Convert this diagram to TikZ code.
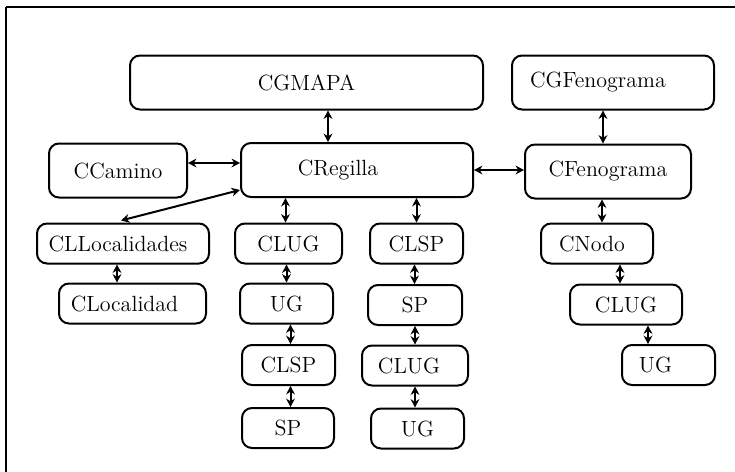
\documentclass[tikz,border=0pt]{standalone}
\usepackage{tikz}
\usetikzlibrary{arrows.meta}

\begin{document}
\begin{tikzpicture}[
  x=0.5pt,y=-0.5pt,
  font=\fontsize{11}{13}\selectfont,
  box/.style={draw,line width=1pt,rounded corners=5pt,inner sep=0pt},
  big/.style={box,minimum height=27pt},
  sm/.style={box,minimum height=20pt},
  link/.style={{Stealth[length=4.2pt,width=4.4pt]}-{Stealth[length=4.2pt,width=4.4pt]},line width=1pt}
]
\useasboundingbox (0,0) rectangle (735,472);
% frame (only top and left edges show)
\draw[line width=0.6pt] (735,7) -- (6,7);
\draw[line width=1pt] (6,7) -- (6,472);
% top row
\node[big,minimum width=176.5pt] (cgmapa) at (306.5,82.5) {CGMAPA};
\node[big,minimum width=101pt]   (cgfeno) at (613,82.5)   {CGFenograma\hspace*{15pt}};
% second row
\node[big,minimum width=69pt]  (ccamino) at (118,170.5) {CCamino};
\node[big,minimum width=116pt] (creg)    at (357,170)   {CRegilla\hspace*{19pt}};
\node[big,minimum width=83pt]  (cfeno)   at (608,171.5) {CFenograma};
% lists
\node[sm,minimum width=86pt]   (cllocs) at (123,243.5)   {CLLocalidades\hspace*{5pt}};
\node[sm,minimum width=53.5pt] (clugA)  at (288.5,243.5) {CLUG};
\node[sm,minimum width=46.5pt] (clspB)  at (416.5,243.5) {CLSP};
\node[sm,minimum width=56pt]   (cnodo)  at (597,243.5)   {CNodo\hspace*{5pt}};
\node[sm,minimum width=73.5pt] (cloc)   at (132.5,303.5) {CLocalidad\hspace*{8pt}};
\node[sm,minimum width=46.5pt] (ugA)    at (286.5,303.5) {UG};
\node[sm,minimum width=47pt]   (spB)    at (415,305)     {SP};
\node[sm,minimum width=56pt]   (clugC)  at (626,304.5)   {CLUG};
\node[sm,minimum width=46.5pt] (clspA)  at (288.5,365)   {CLSP};
\node[sm,minimum width=53pt]   (clugB)  at (415,365.5)   {CLUG\hspace*{6pt}};
\node[sm,minimum width=46.5pt] (ugC)    at (668.5,365)   {UG\hspace*{13pt}};
\node[sm,minimum width=46pt]   (spA)    at (288,428)     {SP};
\node[sm,minimum width=46.5pt] (ugB)    at (417.5,428.5) {UG};
% links
\draw[link] ([xshift=10.75pt]cgmapa.south) -- ([xshift=10.75pt]cgmapa.south |- creg.north);
\draw[link] ([xshift=-5pt]cgfeno.south) -- ([xshift=-5pt]cgfeno.south |- cfeno.north);
\draw[link] ([yshift=3.75pt]ccamino.east) -- ([yshift=3.75pt]ccamino.east -| creg.west);
\draw[link] (creg.east) -- (creg.east -| cfeno.west);
\draw[link] ([yshift=-10pt]creg.west) -- ([xshift=-1pt,yshift=1pt]cllocs.north);
\draw[link] ([xshift=-1.5pt]clugA.north |- creg.south) -- ([xshift=-1.5pt]clugA.north);
\draw[link] (clspB.north |- creg.south) -- (clspB.north);
\draw[link] ([xshift=-3pt]cfeno.south) -- ([xshift=-3pt]cfeno.south |- cnodo.north);
% chains
\draw[link] ([xshift=-3pt]cllocs.south) -- ([xshift=-3pt]cllocs.south |- cloc.north);
\draw[link] (ugA.north |- clugA.south) -- (ugA.north);
\draw[link] ([xshift=1pt]clspA.north |- ugA.south) -- ([xshift=1pt]clspA.north);
\draw[link] ([xshift=1pt]clspA.south) -- ([xshift=1pt]clspA.south |- spA.north);
\draw[link] ([xshift=-1pt]clspB.south) -- ([xshift=-1pt]clspB.south |- spB.north);
\draw[link] (clugB.north |- spB.south) -- (clugB.north);
\draw[link] (clugB.south) -- (clugB.south |- ugB.north);
\draw[link] ([xshift=-3pt]clugC.north |- cnodo.south) -- ([xshift=-3pt]clugC.north);
\draw[link] ([xshift=11pt]clugC.south) -- ([xshift=11pt]clugC.south |- ugC.north);
\end{tikzpicture}
\end{document}
